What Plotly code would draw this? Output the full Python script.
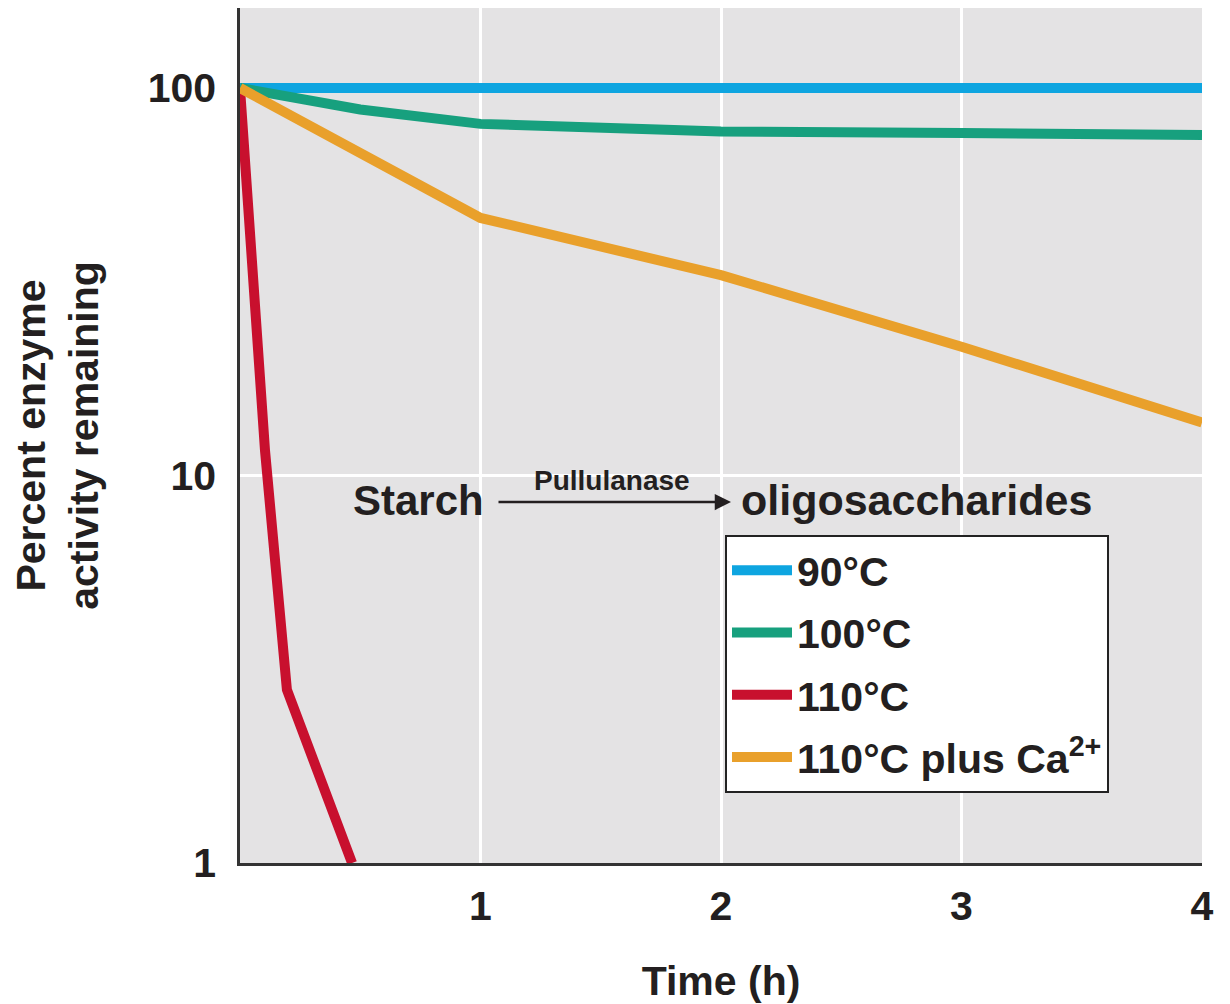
import plotly.graph_objects as go
import math

# ---- data ----
time_90 = [0, 1, 2, 3, 4]
pct_90 = [100, 100, 100, 100, 100]

time_100 = [0, 0.5, 1, 2, 3, 4]
pct_100 = [100, 88, 80.8, 77.2, 76.5, 75.6]

time_110 = [0, 0.104, 0.195, 0.466]
pct_110 = [100, 11.6, 2.8, 1.0]

time_ca = [0, 1, 2, 3, 4]
pct_ca = [100, 46.2, 32.9, 21.5, 13.7]

series_names = ["90°C", "100°C", "110°C", "110°C plus Ca<sup>2+</sup>"]
series_colors = ["#0ea5e0", "#17a07e", "#c8102e", "#e9a02b"]

x_tickvals = [1, 2, 3, 4]
y_tickvals = [1, 10, 100]
y_ticktext = ["1", "10", "100"]

FONT = "Liberation Sans, Arial, sans-serif"
TXT = "#231f20"

fig = go.Figure()
for name, color, xs, ys, grp in zip(
    series_names, series_colors,
    [time_90, time_100, time_110, time_ca],
    [pct_90, pct_100, pct_110, pct_ca],
    ["g1", "g2", "g3", "g4"],
):
    fig.add_trace(go.Scatter(
        x=xs, y=ys, mode="lines", name=name, legendgroup=grp,
        line=dict(color=color, width=10),
    ))

# page body adds an 8px offset; figure is sized to fill the rest of the window
OFF = 8
W, H = 1230 - OFF, 1004 - OFF
PLOT_L, PLOT_R, PLOT_T, PLOT_B = 240, 1202, 8, 863   # screen pixels
ml, mr, mt, mb = PLOT_L - OFF, 1230 - PLOT_R, PLOT_T - OFF, 1004 - PLOT_B
pw, ph = PLOT_R - PLOT_L, PLOT_B - PLOT_T

def px_x(px):
    return (px - PLOT_L) / pw

def px_y(py):
    return (PLOT_B - py) / ph

def f(size):
    return dict(family=FONT, size=size, color=TXT, weight="bold")

fig.update_layout(
    width=W, height=H,
    margin=dict(l=ml, r=mr, t=mt, b=mb, pad=0),
    paper_bgcolor="white",
    plot_bgcolor="#e4e3e4",
    font=f(40),
    showlegend=True,
    legend=dict(
        x=px_x(725), y=px_y(535), xanchor="left", yanchor="top",
        bgcolor="white", bordercolor="#222222", borderwidth=2,
        font=f(41),
        traceorder="grouped", tracegroupgap=6,
        itemwidth=60,
    ),
    xaxis=dict(
        range=[0, 4], tickvals=x_tickvals, ticks="",
        showgrid=True, gridcolor="white", gridwidth=3,
        showline=True, linecolor="#333333", linewidth=2.5,
        zeroline=False, ticklabelstandoff=5,
        tickfont=f(41),
        title=dict(text="Time (h)", standoff=44, font=f(41)),
    ),
    yaxis=dict(
        type="log", range=[0, 2 * (PLOT_B - PLOT_T) / (PLOT_B - 88)],
        tickvals=y_tickvals, ticktext=y_ticktext, ticks="",
        showgrid=True, gridcolor="white", gridwidth=3,
        showline=True, linecolor="#333333", linewidth=2.5,
        zeroline=False, ticklabelstandoff=13,
        tickfont=f(41),
        title=dict(text="Percent enzyme<br>activity remaining", standoff=50, font=f(41)),
    ),
)

# reaction annotation
fig.add_annotation(xref="paper", yref="paper", x=px_x(486), y=px_y(500),
                   xanchor="right", yanchor="middle", showarrow=False,
                   text="Starch", font=f(42))
fig.add_annotation(xref="paper", yref="paper", x=px_x(739), y=px_y(500),
                   xanchor="left", yanchor="middle", showarrow=False,
                   text="oligosaccharides", font=f(43))
fig.add_annotation(xref="paper", yref="paper", x=px_x(612), y=px_y(480),
                   xanchor="center", yanchor="middle", showarrow=False,
                   text="Pullulanase", font=f(28))
fig.add_annotation(xref="paper", yref="paper", x=px_x(731), y=px_y(502),
                   ax=-234, ay=0, showarrow=True, text="",
                   arrowhead=2, arrowsize=1.3, arrowwidth=2.5, arrowcolor=TXT)

fig.write_html("out.html")
